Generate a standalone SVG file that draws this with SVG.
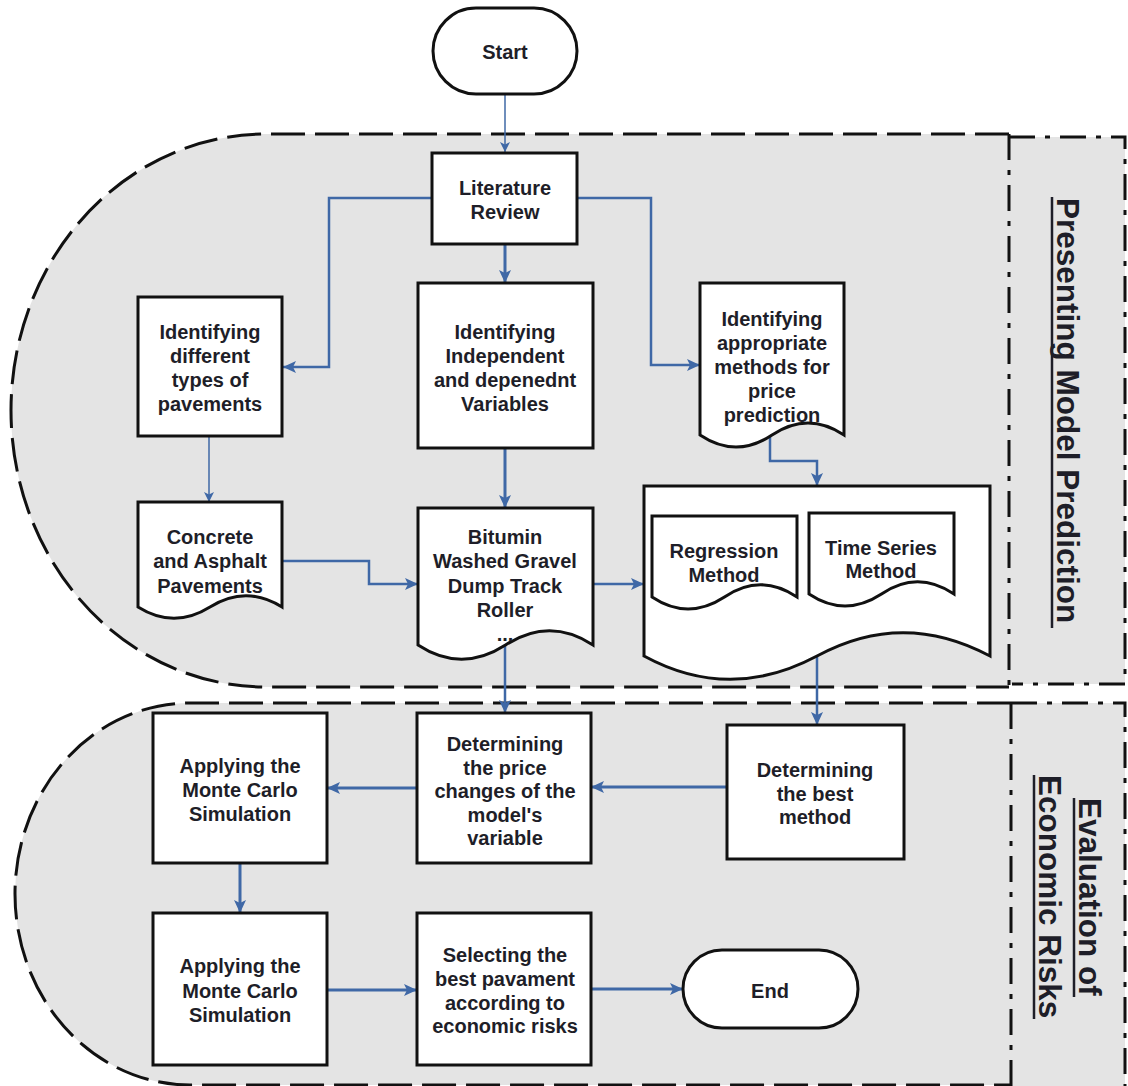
<svg xmlns="http://www.w3.org/2000/svg" width="1128" height="1086" viewBox="0 0 1128 1086">
<defs>
<style>
.reg{fill:#e4e4e4;stroke:none}
.dash{fill:none;stroke:#111;stroke-width:3;stroke-dasharray:34 10}
.dd{fill:none;stroke:#111;stroke-width:3;stroke-dasharray:26 10 5 10}
.box{fill:#fff;stroke:#111;stroke-width:3}
.t{font-family:"Liberation Sans",Arial,sans-serif;font-weight:bold;font-size:20px;fill:#1e1e28;text-anchor:middle}
.side{font-family:"Liberation Sans",Arial,sans-serif;font-weight:bold;font-size:31.5px;fill:#1e1e28}
.ul{stroke:#1e1e28;stroke-width:2.5}
.c{fill:none;stroke:#3f68a6;stroke-width:2.5;marker-end:url(#ah)}
.c3{fill:none;stroke:#3f68a6;stroke-width:3;marker-end:url(#ah)}
.cs{fill:none;stroke:#3f68a6;stroke-width:1.5;marker-end:url(#ahs)}
</style>
<marker id="ah" markerUnits="userSpaceOnUse" markerWidth="14" markerHeight="12" refX="13" refY="6" orient="auto">
<path d="M0,0 L13,6 L0,12 L3,6 Z" fill="#3f68a6"/>
</marker>
<marker id="ahs" markerUnits="userSpaceOnUse" markerWidth="11" markerHeight="10" refX="10" refY="5" orient="auto">
<path d="M0,0 L10,5 L0,10 L2.5,5 Z" fill="#3f68a6"/>
</marker>
</defs>
<rect width="1128" height="1086" fill="#fff"/>

<g id="region-prediction">
<path class="reg" d="M266,134 H1009 V687 H266 A255,276.5 0 0 1 266,134 Z"/>
<rect class="reg" x="1009" y="137" width="116" height="547"/>
<path class="dash" d="M1009,134 H266 A255,276.5 0 0 0 266,687 H1009"/>
<path class="dd" d="M1009,134 V687"/>
<path class="dd" d="M1009,137 H1125 V684 H1012"/>
<text class="side" transform="translate(1057,198) rotate(90)">Presenting Model Prediction</text>
<line class="ul" x1="1052" y1="197" x2="1052" y2="628"/>
</g>

<g id="region-evaluation">
<path class="reg" d="M190,703 H1011 V1085 H190 A175,191 0 0 1 190,703 Z"/>
<rect class="reg" x="1011" y="703" width="114" height="383"/>
<path class="dash" d="M1011,703 H190 A175,191 0 0 0 190,1085 H1011"/>
<path class="dd" d="M1011,703 V1086"/>
<path class="dd" d="M1011,703 H1125 V1086"/>
<text class="side" transform="translate(1079,798) rotate(90)">Evaluation of</text>
<line class="ul" x1="1074" y1="798" x2="1074" y2="997"/>
<text class="side" transform="translate(1039,775) rotate(90)">Economic Risks</text>
<line class="ul" x1="1034" y1="775" x2="1034" y2="1019"/>
</g>

<g id="connectors">
<path class="cs" d="M505,94 V152"/>
<path class="c" d="M432,198 H329 V367 H283"/>
<path class="c" d="M577,198 H651 V365 H700"/>
<path class="c3" d="M505,244 V283"/>
<path class="cs" d="M209,436 V502"/>
<path class="c3" d="M505,448 V508"/>
<path class="c" d="M282,561 H369 V584 H418"/>
<path class="c" d="M770,433 V461 H817 V486"/>
<path class="c" d="M593,584 H644"/>
<path class="c" d="M505,645 V713"/>
<path class="c" d="M817,656 V725"/>
<path class="c3" d="M727,787 H591"/>
<path class="c3" d="M417,788 H327"/>
<path class="c3" d="M240,863 V913"/>
<path class="c3" d="M327,990 H417"/>
<path class="c3" d="M591,989 H683"/>
</g>

<g id="start">
<rect class="box" x="433" y="8" width="144" height="86" rx="43"/>
<text class="t" x="505" y="59">Start</text>
</g>

<g id="literature-review">
<rect class="box" x="432" y="153" width="145" height="91"/>
<text class="t" x="505" y="195">Literature</text>
<text class="t" x="505" y="219">Review</text>
</g>

<g id="identifying-types">
<rect class="box" x="138" y="297" width="144" height="139"/>
<text class="t" x="210" y="339">Identifying</text>
<text class="t" x="210" y="363">different</text>
<text class="t" x="210" y="387">types of</text>
<text class="t" x="210" y="411">pavements</text>
</g>

<g id="identifying-variables">
<rect class="box" x="418" y="283" width="175" height="165"/>
<text class="t" x="505" y="339">Identifying</text>
<text class="t" x="505" y="363">Independent</text>
<text class="t" x="505" y="387">and depenednt</text>
<text class="t" x="505" y="411">Variables</text>
</g>

<g id="identifying-methods">
<path class="box" d="M700,283 H844 V435 C820,419 796,419 772,435 C748,451 724,451 700,435 Z"/>
<text class="t" x="772" y="326">Identifying</text>
<text class="t" x="772" y="350">appropriate</text>
<text class="t" x="772" y="374">methods for</text>
<text class="t" x="772" y="398">price</text>
<text class="t" x="772" y="422">prediction</text>
</g>

<g id="concrete-asphalt">
<path class="box" d="M138,502 H282 V607 C258,592 234,592 210,607 C186,622 162,622 138,607 Z"/>
<text class="t" x="210" y="544">Concrete</text>
<text class="t" x="210" y="568">and Asphalt</text>
<text class="t" x="210" y="593">Pavements</text>
</g>

<g id="bitumin">
<path class="box" d="M418,508 H593 V645 C564,626 535,626 505.5,645 C476,664 447,664 418,645 Z"/>
<text class="t" x="505" y="544">Bitumin</text>
<text class="t" x="505" y="568">Washed Gravel</text>
<text class="t" x="505" y="593">Dump Track</text>
<text class="t" x="505" y="617">Roller</text>
<text class="t" x="505" y="641">...</text>
</g>

<g id="methods-group">
<path class="box" d="M644,486 H990 V656 C932,625 874,625 817,656 C759,687 701,687 644,656 Z"/>
<path class="box" d="M652,516 H797 V597 C773,581 748,581 724.5,597 C700,613 676,613 652,597 Z"/>
<text class="t" x="724" y="558">Regression</text>
<text class="t" x="724" y="582">Method</text>
<path class="box" d="M809,513 H954 V594 C930,578 905,578 881.5,594 C857,610 833,610 809,594 Z"/>
<text class="t" x="881" y="555">Time Series</text>
<text class="t" x="881" y="578">Method</text>
</g>

<g id="determining-price-changes">
<rect class="box" x="417" y="713" width="174" height="150"/>
<text class="t" x="505" y="751">Determining</text>
<text class="t" x="505" y="775">the price</text>
<text class="t" x="505" y="798">changes of the</text>
<text class="t" x="505" y="822">model's</text>
<text class="t" x="505" y="845">variable</text>
</g>

<g id="determining-best-method">
<rect class="box" x="727" y="725" width="177" height="134"/>
<text class="t" x="815" y="777">Determining</text>
<text class="t" x="815" y="801">the best</text>
<text class="t" x="815" y="824">method</text>
</g>

<g id="monte-carlo-1">
<rect class="box" x="153" y="713" width="174" height="150"/>
<text class="t" x="240" y="773">Applying the</text>
<text class="t" x="240" y="797">Monte Carlo</text>
<text class="t" x="240" y="821">Simulation</text>
</g>

<g id="monte-carlo-2">
<rect class="box" x="153" y="913" width="174" height="152"/>
<text class="t" x="240" y="973">Applying the</text>
<text class="t" x="240" y="998">Monte Carlo</text>
<text class="t" x="240" y="1022">Simulation</text>
</g>

<g id="selecting-best">
<rect class="box" x="417" y="913" width="174" height="152"/>
<text class="t" x="505" y="962">Selecting the</text>
<text class="t" x="505" y="986">best pavament</text>
<text class="t" x="505" y="1010">according to</text>
<text class="t" x="505" y="1033">economic risks</text>
</g>

<g id="end">
<rect class="box" x="683" y="950" width="175" height="78" rx="39"/>
<text class="t" x="770" y="998">End</text>
</g>
</svg>
